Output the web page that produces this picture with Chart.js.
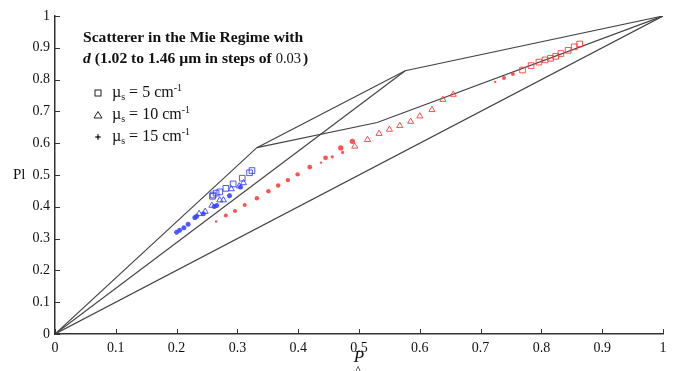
<!DOCTYPE html>
<html>
<head>
<meta charset="utf-8">
<script src="https://cdn.jsdelivr.net/npm/chart.js@4"></script>
<style>
  html, body { margin: 0; padding: 0; background: #fff; }
  #wrap { width: 683px; height: 371px; }
</style>
</head>
<body>
<div id="wrap"><canvas id="c" width="683" height="371"></canvas></div>
<script>
var tickVals = [0, 0.1, 0.2, 0.3, 0.4, 0.5, 0.6, 0.7, 0.8, 0.9, 1];

// boundary polygon lines
var upperP = [0, 0.332, 0.576, 1];
var upperPl = [0, 0.586, 0.828, 1];
var innerP = [0.332, 0.53, 1];
var innerPl = [0.586, 0.665, 1];
var midP = [0, 0.576];
var midPl = [0, 0.828];
var diagP = [0, 1];
var diagPl = [0, 1];

// blue points
var bSqP = [0.324, 0.320, 0.308, 0.293, 0.281, 0.271, 0.265, 0.260, 0.259];
var bSqPl = [0.514, 0.507, 0.490, 0.472, 0.458, 0.447, 0.443, 0.437, 0.433];
var bTriP = [0.310, 0.303, 0.290, 0.277, 0.271, 0.258, 0.247, 0.237];
var bTriPl = [0.475, 0.465, 0.456, 0.421, 0.421, 0.404, 0.385, 0.378];
var bStarP = [0.200, 0.205, 0.212, 0.219, 0.230, 0.233, 0.244, 0.262, 0.266, 0.287, 0.305];
var bStarPl = [0.320, 0.326, 0.334, 0.345, 0.366, 0.370, 0.378, 0.401, 0.404, 0.435, 0.462];

// red points
var rStarP = [0.265, 0.281, 0.296, 0.312, 0.332, 0.351, 0.367, 0.383, 0.399, 0.419, 0.4375, 0.445, 0.456, 0.470, 0.473, 0.489, 0.724, 0.7385, 0.753];
var rStarPl = [0.354, 0.373, 0.387, 0.406, 0.427, 0.449, 0.467, 0.484, 0.502, 0.525, 0.539, 0.554, 0.557, 0.585, 0.571, 0.606, 0.793, 0.805, 0.818];
var rStarSize = [1.2, 2, 2, 2, 2.2, 2.2, 2.2, 2.2, 2.2, 2.4, 1.2, 2.4, 1.6, 2.6, 1.6, 2.6, 1.2, 2, 2];
var rTriP = [0.493, 0.514, 0.533, 0.550, 0.567, 0.585, 0.600, 0.620, 0.638, 0.655];
var rTriPl = [0.590, 0.611, 0.630, 0.643, 0.655, 0.668, 0.685, 0.705, 0.737, 0.753];
var rSqP = [0.769, 0.783, 0.796, 0.806, 0.815, 0.8235, 0.832, 0.844, 0.854, 0.863];
var rSqPl = [0.830, 0.844, 0.855, 0.862, 0.867, 0.873, 0.882, 0.892, 0.903, 0.912];

var blue = 'rgba(60, 70, 255, 0.9)';
var red = 'rgba(255, 50, 50, 0.85)';
var lineCol = '#444';
var serif = '"Liberation Serif", "DejaVu Serif", serif';

function pts(xs, ys) {
    return xs.map(function(x, i) { return { x: x, y: ys[i] }; });
}

function lineSet(xs, ys) {
    return { data: pts(xs, ys), showLine: true, borderColor: lineCol, borderWidth: 1.2,
        pointRadius: 0, fill: false, tension: 0, order: 2 };
}

function pointSet(xs, ys, style, col, r, bw) {
    return { data: pts(xs, ys), showLine: false, pointStyle: style, pointRadius: r,
        borderColor: col, backgroundColor: style === 'star' ? col : 'rgba(0,0,0,0)',
        pointBorderWidth: bw, order: 1 };
}

var rStars = pointSet(rStarP, rStarPl, 'circle', red, 2, 0);
rStars.backgroundColor = red;
rStars.pointRadius = rStarSize;

var overlay = {
    id: 'overlay',
    afterDraw: function(chart) {
        var ctx = chart.ctx;
        var xs = chart.scales.x, ys = chart.scales.y;
        var a = chart.chartArea;
        ctx.save();
        // inward ticks
        ctx.strokeStyle = '#333';
        ctx.lineWidth = 1;
        tickVals.forEach(function(v) {
            var px = Math.round(xs.getPixelForValue(v)) + 0.5;
            ctx.beginPath(); ctx.moveTo(px, a.bottom); ctx.lineTo(px, a.bottom - 5); ctx.stroke();
            var py = Math.round(ys.getPixelForValue(v)) + 0.5;
            ctx.beginPath(); ctx.moveTo(a.left, py); ctx.lineTo(a.left + 5, py); ctx.stroke();
        });
        ctx.fillStyle = '#111';
        ctx.textBaseline = 'middle';
        // axis labels
        ctx.font = '15px ' + serif;
        ctx.textAlign = 'left';
        ctx.fillText('Pl', 13, ys.getPixelForValue(0.5));
        ctx.textAlign = 'center';
        ctx.font = 'italic 17px ' + serif;
        ctx.fillText('P', xs.getPixelForValue(0.5), 358);
        ctx.font = '13px ' + serif;
        ctx.fillText('^', xs.getPixelForValue(0.5) - 1, 371);
        // title
        ctx.textAlign = 'left';
        ctx.font = 'bold 15.6px ' + serif;
        ctx.fillText('Scatterer in the Mie Regime with', 83, 38);
        var x0 = 83, y2 = 59;
        ctx.font = 'italic bold 15.6px ' + serif;
        ctx.fillText('d', x0, y2);
        x0 += ctx.measureText('d').width;
        ctx.font = 'bold 15.6px ' + serif;
        var t2 = ' (1.02 to 1.46 \u00b5m in steps of ';
        ctx.fillText(t2, x0, y2);
        x0 += ctx.measureText(t2).width;
        ctx.font = '14.5px ' + serif;
        ctx.fillText('0.03', x0, y2);
        x0 += ctx.measureText('0.03').width + 2;
        ctx.font = 'bold 15.6px ' + serif;
        ctx.fillText(')', x0, y2);
        // legend
        var rows = [['rect', '5', 93], ['triangle', '10', 115], ['star', '15', 137]];
        rows.forEach(function(r) {
            var mx = 98, my = r[2];
            ctx.strokeStyle = '#222';
            ctx.fillStyle = '#222';
            ctx.lineWidth = 1;
            if (r[0] === 'rect') {
                ctx.strokeRect(mx - 3, my - 3, 6, 6);
            } else if (r[0] === 'triangle') {
                ctx.beginPath(); ctx.moveTo(mx, my - 3.5); ctx.lineTo(mx + 4, my + 3); ctx.lineTo(mx - 4, my + 3); ctx.closePath(); ctx.stroke();
            } else {
                ctx.beginPath(); ctx.moveTo(mx - 3, my); ctx.lineTo(mx + 3, my); ctx.moveTo(mx, my - 3); ctx.lineTo(mx, my + 3); ctx.stroke();
                ctx.beginPath(); ctx.arc(mx, my, 1.5, 0, Math.PI * 2); ctx.fill();
            }
            ctx.fillStyle = '#111';
            var tx = 112;
            ctx.font = '16px ' + serif;
            ctx.fillText('\u00b5', tx, my);
            tx += ctx.measureText('\u00b5').width;
            ctx.font = '10px ' + serif;
            ctx.fillText('s', tx, my + 4);
            tx += ctx.measureText('s').width;
            ctx.font = '16px ' + serif;
            var s = ' = ' + r[1] + ' cm';
            ctx.fillText(s, tx, my);
            tx += ctx.measureText(s).width;
            ctx.font = '10px ' + serif;
            ctx.fillText('-1', tx, my - 5);
        });
        ctx.restore();
    }
};

var trim = function(v) { return String(Math.round(v * 10) / 10); };

new Chart(document.getElementById('c'), {
    type: 'scatter',
    data: {
        datasets: [
            lineSet(upperP, upperPl),
            lineSet(innerP, innerPl),
            lineSet(midP, midPl),
            lineSet(diagP, diagPl),
            pointSet(bSqP, bSqPl, 'rect', blue, 4, 1),
            pointSet(bTriP, bTriPl, 'triangle', blue, 3.5, 1),
            pointSet(bStarP, bStarPl, 'star', blue, 2.5, 1.5),
            rStars,
            pointSet(rTriP, rTriPl, 'triangle', red, 3.5, 1),
            pointSet(rSqP, rSqPl, 'rect', red, 4, 1)
        ]
    },
    options: {
        responsive: false,
        animation: false,
        layout: { padding: { top: 16, right: 20, left: 0, bottom: 0 } },
        plugins: { legend: { display: false }, tooltip: { enabled: false } },
        scales: {
            x: {
                type: 'linear', min: 0, max: 1,
                afterFit: function(s) { s.height = 37; },
                grid: { display: false, drawTicks: false },
                border: { display: true, color: '#333', width: 1.5 },
                ticks: { stepSize: 0.1, padding: 6, color: '#111', font: { family: serif, size: 14 }, callback: trim, maxRotation: 0 }
            },
            y: {
                type: 'linear', min: 0, max: 1,
                afterFit: function(s) { s.width = 55; },
                grid: { display: false, drawTicks: false },
                border: { display: true, color: '#333', width: 1.5 },
                ticks: { stepSize: 0.1, padding: 5, color: '#111', font: { family: serif, size: 14 }, callback: trim }
            }
        }
    },
    plugins: [overlay]
});
</script>
</body>
</html>
